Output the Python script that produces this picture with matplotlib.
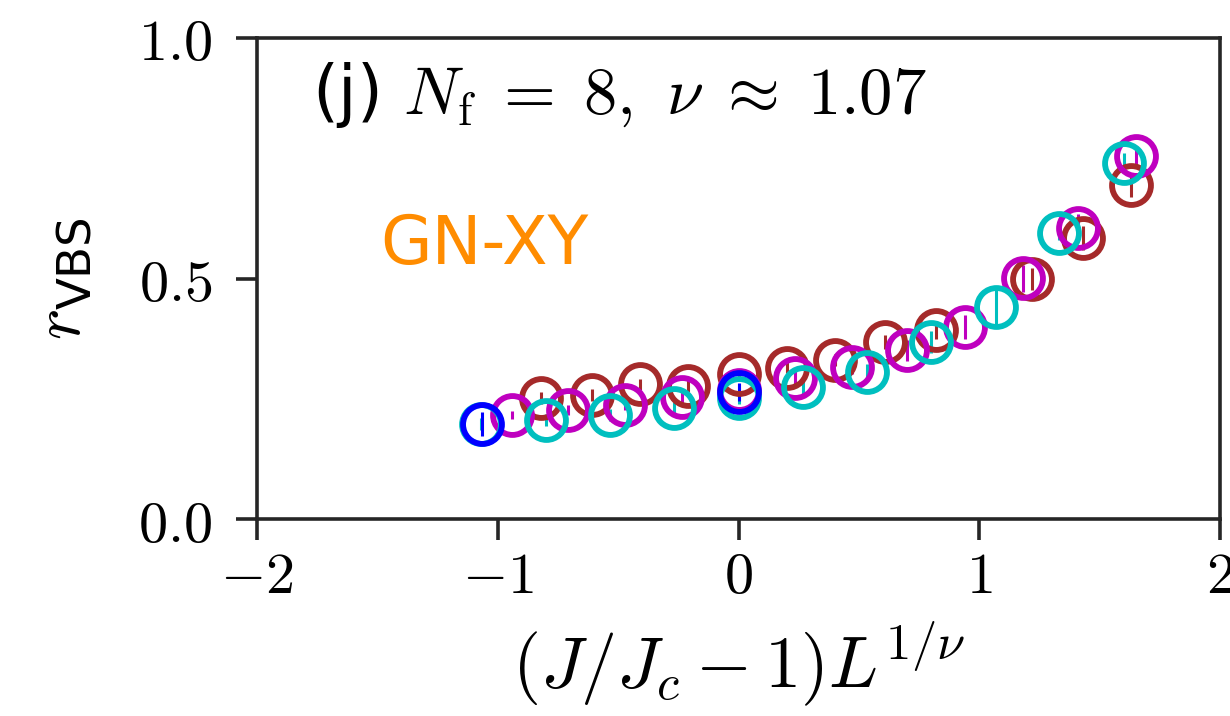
import numpy as np
import matplotlib
matplotlib.use("Agg")
import matplotlib.pyplot as plt

plt.rcParams['mathtext.fontset'] = 'cm'
plt.rcParams['font.family'] = ['DejaVu Sans']

# collapsed data, one series per system size (brown, magenta, cyan, blue)
x_brown = [-0.82, -0.61, -0.41, -0.21, 0.0, 0.20, 0.40, 0.61, 0.82, 1.22, 1.43, 1.63]
y_brown = [0.252, 0.258, 0.280, 0.277, 0.302, 0.315, 0.331, 0.368, 0.393, 0.499, 0.584, 0.694]
e_brown = [0.012, 0.012, 0.012, 0.012, 0.010, 0.012, 0.012, 0.015, 0.018, 0.022, 0.025, 0.025]

x_mag = [-0.94, -0.71, -0.47, -0.235, 0.0, 0.235, 0.47, 0.70, 0.94, 1.18, 1.41, 1.65]
y_mag = [0.216, 0.227, 0.237, 0.254, 0.268, 0.293, 0.316, 0.351, 0.399, 0.501, 0.605, 0.755]
e_mag = [0.008, 0.010, 0.010, 0.012, 0.012, 0.015, 0.015, 0.022, 0.025, 0.028, 0.030, 0.020]

x_cyan = [-1.07, -0.80, -0.535, -0.268, 0.0, 0.268, 0.533, 0.80, 1.07, 1.33, 1.60]
y_cyan = [0.198, 0.206, 0.216, 0.231, 0.252, 0.275, 0.305, 0.368, 0.441, 0.595, 0.740]
e_cyan = [0.012, 0.012, 0.012, 0.012, 0.012, 0.015, 0.018, 0.022, 0.040, 0.015, 0.020]

x_blue = [-1.065, 0.0]
y_blue = [0.197, 0.264]
e_blue = [0.025, 0.018]

series = [
    (x_brown, y_brown, e_brown, '#a52a2a'),
    (x_mag, y_mag, e_mag, '#bf00bf'),
    (x_cyan, y_cyan, e_cyan, '#00bfbf'),
    (x_blue, y_blue, e_blue, '#0000ff'),
]

fig = plt.figure(figsize=(12.3, 7.16), dpi=100)
ax = fig.add_axes([0.209, 0.275, 0.783, 0.672])

for xs, ys, es, c in series:
    ax.errorbar(xs, ys, yerr=es, fmt='o', ms=28, mfc='none', mec=c, mew=4.2,
                ecolor=c, elinewidth=2.2, capsize=0)

ax.set_xlim(-2, 2)
ax.set_ylim(0, 1)
ax.set_xticks([-2, -1, 0, 1, 2])
ax.set_xticklabels(['$-2$', '$-1$', '$0$', '$1$', '$2$'])
ax.set_yticks([0, 0.5, 1.0])
ax.set_yticklabels(['$0.0$', '$0.5$', '$1.0$'])
ax.tick_params(labelsize=42, length=15, width=2.6, color='#262626', direction='out', pad=6)
ax.tick_params(axis='y', pad=17)
for sp in ax.spines.values():
    sp.set_linewidth(2.6)
    sp.set_color('#262626')

ax.set_xlabel(r'$(J/J_c-1)L^{1/\nu}$', fontsize=52, labelpad=10)
ax.set_ylabel(r'$r_\mathregular{VBS}$', fontsize=48, labelpad=32)

ax.text(0.057, 0.955, r'(j) $N_\mathrm{f}\;=\;8,\ \nu\;\approx\;1.07$', transform=ax.transAxes,
        fontsize=48, va='top', ha='left')
ax.text(0.128, 0.57, 'GN-XY', transform=ax.transAxes, fontsize=48,
        color='#ff8c00', va='center', ha='left')

fig.savefig('out.png', dpi=100)
